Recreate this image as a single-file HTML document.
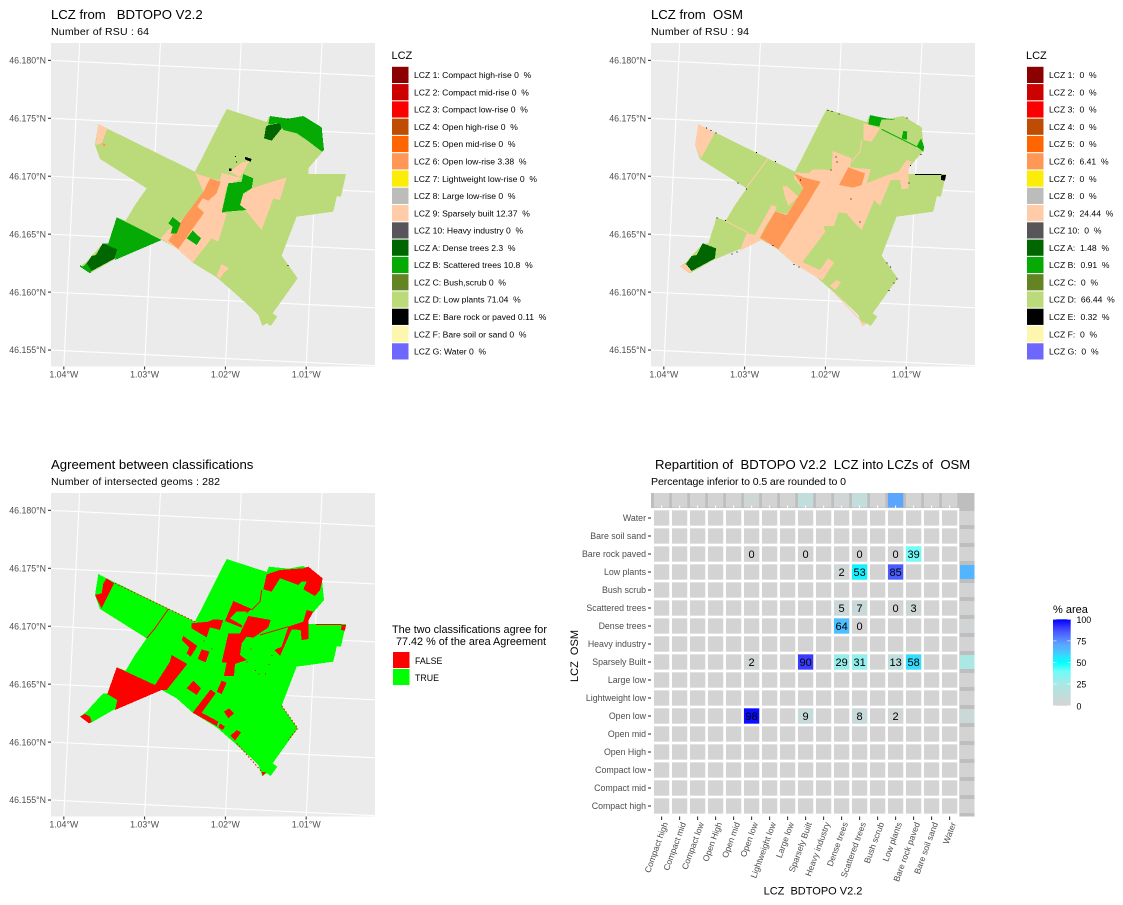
<!DOCTYPE html>
<html lang="en">
<head>
<meta charset="utf-8">
<title>LCZ classification comparison</title>
<style>
html,body{margin:0;padding:0;background:#fff;}
svg{display:block;}
text{font-family:"Liberation Sans",sans-serif;white-space:pre;}
.t{font-size:13.15px;fill:#000;}
.s{font-size:10.56px;fill:#000;}
.a{font-size:11px;fill:#000;}
.k{font-size:8.8px;fill:#4d4d4d;}
.x{font-size:8.6px;fill:#4d4d4d;}
.l{font-size:8.8px;fill:#000;}
.n{font-size:8.58px;fill:#000;}
</style>
</head>
<body>
<svg id="root" width="1123" height="905" viewBox="0 0 1123 905" xmlns="http://www.w3.org/2000/svg">
  <defs>
    <clipPath id="panel-clip"><rect x="51" y="43" width="324" height="323.5"></rect></clipPath>
    <linearGradient id="pct-gradient" x1="0" y1="1" x2="0" y2="0"></linearGradient>
  </defs>
  <rect x="0" y="0" width="1123" height="905" fill="#fff"></rect>

  <text class="t" x="51" y="19">LCZ from   BDTOPO V2.2</text>
  <text class="s" x="51" y="35" textLength="98" lengthAdjust="spacing">Number of RSU : 64</text>
  <g id="map-bdtopo"></g>
  <text class="a" x="391.5" y="59">LCZ</text>
  <g id="legend-bdtopo"></g>

  <text class="t" x="651" y="19">LCZ from  OSM</text>
  <text class="s" x="651" y="35" textLength="98" lengthAdjust="spacing">Number of RSU : 94</text>
  <g id="map-osm" transform="translate(600,0)"></g>
  <text class="a" x="1026" y="59">LCZ</text>
  <g id="legend-osm"></g>

  <text class="t" x="51" y="469">Agreement between classifications</text>
  <text class="s" x="51" y="485" textLength="169" lengthAdjust="spacing">Number of intersected geoms : 282</text>
  <g id="map-agree" transform="translate(0,450)"></g>
  <text class="a" x="469.5" y="633" text-anchor="middle" style="font-size:10.85px">The two classifications agree for</text>
  <text class="a" x="469.5" y="645" text-anchor="middle" style="font-size:10.85px"> 77.42 % of the area Agreement</text>
  <rect x="393" y="652" width="16.5" height="16" fill="#ff0000"></rect>
  <rect x="393" y="669" width="16.5" height="16" fill="#00ff00"></rect>
  <text class="l" x="415" y="664">FALSE</text>
  <text class="l" x="415" y="681">TRUE</text>

  <text class="t" x="655" y="469">Repartition of  BDTOPO V2.2  LCZ into LCZs of  OSM</text>
  <text class="s" x="651" y="485" textLength="195" lengthAdjust="spacing">Percentage inferior to 0.5 are rounded to 0</text>
  <g id="heatmap"></g>
  <text class="a" x="813" y="894.5" text-anchor="middle">LCZ  BDTOPO V2.2</text>
  <text class="a" transform="translate(578,656) rotate(-90)" text-anchor="middle">LCZ  OSM</text>

  <text class="a" x="1053" y="613">% area</text>
  <g id="colorbar"></g>
</svg>
<script>
/* ---------- axis data ---------- */
const lonTicks = [-1.04, -1.03, -1.02, -1.01];
const latTicks = [46.18, 46.175, 46.17, 46.165, 46.16, 46.155];

/* ---------- legend data ---------- */
const zoneCodes = ["1","2","3","4","5","6","7","8","9","10","A","B","C","D","E","F","G"];
const zoneNames = ["Compact high-rise","Compact mid-rise","Compact low-rise","Open high-rise","Open mid-rise","Open low-rise","Lightweight low-rise","Large low-rise","Sparsely built","Heavy industry","Dense trees","Scattered trees","Bush,scrub","Low plants","Bare rock or paved","Bare soil or sand","Water"];
const zoneColors = ["#8b0101","#cc0200","#fc0001","#be4c03","#ff6602","#ff9856","#fbed08","#bcbcba","#ffcca7","#57555a","#006700","#05aa05","#648423","#bbdb7a","#010101","#fdf6ae","#6d67fd"];
const bdtopoShare = [0,0,0,0,0,3.38,0,0,12.37,0,2.3,10.8,0,71.04,0.11,0,0];
const osmShare = [0,0,0,0,0,6.41,0,0,24.44,0,1.48,0.91,0,66.44,0.32,0,0];

/* ---------- heatmap data ---------- */
const heatCols = ["Compact high","Compact mid","Compact low","Open High","Open mid","Open low","Lightweight low","Large low","Sparsely Built","Heavy industry","Dense trees","Scattered trees","Bush scrub","Low plants","Bare rock paved","Bare soil sand","Water"];
const heatRows = ["Water","Bare soil sand","Bare rock paved","Low plants","Bush scrub","Scattered trees","Dense trees","Heavy industry","Sparsely Built","Large low","Lightweight low","Open low","Open mid","Open High","Compact low","Compact mid","Compact high"];
const heatCells = [
  ["Bare rock paved","Open low",0],["Bare rock paved","Sparsely Built",0],["Bare rock paved","Scattered trees",0],["Bare rock paved","Low plants",0],["Bare rock paved","Bare rock paved",39],
  ["Low plants","Dense trees",2],["Low plants","Scattered trees",53],["Low plants","Low plants",85],
  ["Scattered trees","Dense trees",5],["Scattered trees","Scattered trees",7],["Scattered trees","Low plants",0],["Scattered trees","Bare rock paved",3],
  ["Dense trees","Dense trees",64],["Dense trees","Scattered trees",0],
  ["Sparsely Built","Open low",2],["Sparsely Built","Sparsely Built",90],["Sparsely Built","Dense trees",29],["Sparsely Built","Scattered trees",31],["Sparsely Built","Low plants",13],["Sparsely Built","Bare rock paved",58],
  ["Open low","Open low",98],["Open low","Sparsely Built",9],["Open low","Scattered trees",8],["Open low","Low plants",2]
];
const topMarginShare = [["Open low",3.38],["Sparsely Built",12.37],["Dense trees",2.3],["Scattered trees",10.8],["Low plants",71.04],["Bare rock paved",0.11]];
const rightMarginShare = [["Open low",6.41],["Sparsely Built",24.44],["Dense trees",1.48],["Scattered trees",0.91],["Low plants",66.44],["Bare rock paved",0.32]];

/* ---------- colour scale ---------- */
const rampValues = [0,10,25,40,50,58,64,71,85,90,100];
const rampColors = ["#d3d3d3","#c5dbdb","#a9e8e4","#6efbf8","#00ffff","#33ddff","#4dbeff","#5aa5ff","#4a5cff","#3a3dff","#0000ff"];
const colorbarTicks = [0,25,50,75,100];

/* ---------- geometry: rings in local site-grid units (about 3.2 m per unit, easting, southing) ---------- */
const siteFootprint = "560,57 680,96 687,80 745,86 790,78 845,112 852,180 805,235 805,252 918,252 903,320 890,320 880,365 770,380 725,497 773,565 698,670 712,680 692,708 680,700 667,708 655,675 640,660 585,610 530,562 458,518 410,475 365,450 220,510 150,550 120,530 140,515 155,497 190,460 205,460 230,382 257,392 285,345 320,295 180,207 165,165 175,102 200,115 465,245";

const bdtopoZones = [
  ["9","175,102 202,115 185,160 167,165"],
  ["9","465,247 480,255 540,272 545,248 605,265 560,290 545,365 560,372 535,455 515,445 458,518 410,475 362,445 385,420 430,385 490,305"],
  ["9","570,245 605,218 628,213 600,262"],
  ["9","740,262 720,330 700,325 665,420 620,365 600,345 610,315 635,295"],
  ["9","545,522 567,535 552,548 540,565 530,558 535,545"],
  ["6","510,265 542,275 530,310 505,332 488,325 472,350 492,368 415,477 385,452 430,385 460,345 490,305"],
  ["6","185,160 198,163 192,170"],
  ["B","690,78 745,86 790,78 845,112 852,180 846,185 800,150 770,130 730,120 718,100 685,103"],
  ["B","565,280 605,275 610,252 640,265 635,295 610,310 600,345 620,360 560,365 545,368"],
  ["B","398,381 422,400 410,430 392,430 398,410 385,400"],
  ["B","458,422 483,445 470,465 440,445"],
  ["B","230,382 365,450 225,510 232,478 188,460 205,460"],
  ["B","120,525 128,530 140,520 155,543 150,550 120,530"],
  ["A","685,105 720,100 725,115 695,152 672,145 678,110"],
  ["A","188,460 232,478 225,505 155,543 140,520 155,498 168,495"],
  ["E","615,200 635,207 632,215 615,208"],
  ["E","567,236 575,235 575,243 567,243"]
];
const bdtopoDots = ["585,198","588,215","743,85","743,525"];

const osmZones = [
  ["9","175,102 225,128 183,205 165,165"],
  ["9","465,247 505,250 520,238 575,240 578,183 635,205 630,232 692,238 680,280 730,260 775,245 800,210 815,215 805,235 805,295 785,298 780,270 752,270 720,348 703,330 665,420 640,395 620,370 595,367 582,408 550,408 556,425 530,460 487,516 540,540 565,505 582,518 548,570 530,562 458,518 415,478 360,445 405,365 440,372 490,297 462,265"],
  ["9","428,290 440,288 475,320 445,348 435,320"],
  ["9","395,345 410,350 405,365 375,410 360,445 345,435"],
  ["9","320,430 345,435 365,450 300,482 310,455"],
  ["9","670,100 720,115 695,155 670,150"],
  ["9","665,695 678,700 668,708 660,695"],
  ["9","120,530 135,522 150,530 155,545 147,550"],
  ["9","590,570 603,577 585,600 570,587"],
  ["6","462,250 490,262 542,275 500,345 415,478 360,443 405,365 440,375 490,295"],
  ["6","625,232 675,250 665,285 640,293 597,285"],
  ["A","188,460 228,475 225,505 155,543 138,522 155,498 170,495"],
  ["B","690,75 722,82 768,90 725,88 718,110 685,103"],
  ["B","790,122 802,125 800,150 785,145"],
  ["B","843,145 852,170 850,185 830,170"],
  ["E","904,255 918,255 915,272 903,270"],
  ["E","825,252 905,252 905,255 825,255"]
];
const osmRoads = [
  ["9","385,205 340,265 318,295"],
  ["9","255,392 325,428"],
  ["9","665,150 660,185 635,215"],
  ["9","585,610 665,695"],
  ["B","725,118 830,170"]
];
const osmDots = ["563,60","575,63","595,70","198,112","212,120","227,128","348,186","405,213","292,277","318,295","230,382","255,390","397,465","290,484","275,490","460,522","475,530","740,517","750,530","770,565","760,578","745,600","800,82","842,192","810,225","806,278","587,200","590,215","572,238","480,268","632,325","658,395"];

const agreeFalseZones = [
  "200,115 222,130 185,205 165,165 185,160 190,130",
  "580,183 635,207 610,228 605,263 555,243",
  "455,250 505,245 520,238 550,240 540,270 510,262 500,292 455,265",
  "680,103 720,90 790,85 805,80 848,115 840,150 825,168 790,148 800,125 785,125 775,135 735,120 720,115 695,155 670,148",
  "625,228 692,240 685,262 640,293 620,290 605,310 600,345 620,360 585,372 582,408 552,408 560,368 545,368 565,280 600,280",
  "800,210 820,215 806,240 806,297 785,300 782,270 755,268 720,348 703,330 725,320 745,260 790,245",
  "395,345 442,372 380,450 365,450 345,435 390,365",
  "430,288 472,318 452,350 440,340 448,322 425,300",
  "485,328 508,335 497,367 473,357",
  "440,445 460,422 483,445 470,465",
  "545,422 560,428 545,462 530,455",
  "230,382 345,435 365,450 225,510 232,480 202,462",
  "512,448 527,460 485,518 535,545 530,558 458,518",
  "552,515 567,505 582,520 565,535",
  "540,550 555,560 548,570 535,562",
  "590,570 603,577 585,602 572,587",
  "120,530 135,522 150,530 155,545 147,550",
  "665,695 678,697 668,708",
  "828,252 905,252 905,255 828,255",
  "905,255 918,255 915,272 903,270"
];
const agreeTrueZones = ["590,215 620,215 605,255 570,235"];
const agreeFalseRoads = [
  "385,207 345,265 320,295",
  "665,150 660,185 635,210",
  "745,260 660,285"
];
const agreeDashedEdges = [
  "225,130 465,245",
  "590,610 665,695",
  "725,497 773,565 745,600"
];
const agreeDots = ["632,325","645,390","655,400","675,400","685,372","695,345","490,302","515,325","555,405","620,365"];

/* ---------- helpers ---------- */
const SVGNS = "http://www.w3.org/2000/svg";
function mk(tag, attrs, parent) {
  const el = document.createElementNS(SVGNS, tag);
  for (const k in attrs) el.setAttribute(k, attrs[k]);
  parent.appendChild(el);
  return el;
}
function panelLon(lon) { return (lon + 1.04) / 0.01; }
function panelLat(lat) { return (lat - 46.175) / 0.005; }
function geoX(lon, lat) { return 75.9 + 80.6 * panelLon(lon) + 2.83 * panelLat(lat); }
function geoY(lon, lat) { return 119.5 + 3.9 * panelLon(lon) - 57.8 * panelLat(lat); }
function siteX(e) { return 40 + e / 3; }
function siteY(s) { return 90 + s / 3; }
function ringPoints(ring) {
  return ring.split(" ").map(function (p) {
    const c = p.split(",");
    return siteX(+c[0]).toFixed(2) + "," + siteY(+c[1]).toFixed(2);
  }).join(" ");
}
function latTickY(lat) {
  const lon = -1.04 + 0.01 * (51 - 75.9 - 2.83 * panelLat(lat)) / 80.6;
  return geoY(lon, lat);
}
function lonTickX(lon) {
  const lat = 46.175 + 0.005 * (119.5 + 3.9 * panelLon(lon) - 366.5) / 57.8;
  return geoX(lon, lat);
}
function hexToRgb(h) { return [parseInt(h.substr(1,2),16), parseInt(h.substr(3,2),16), parseInt(h.substr(5,2),16)]; }
function pctColor(v) {
  let i = 0;
  while (i < rampValues.length - 2 && v > rampValues[i + 1]) i++;
  const t = Math.max(0, Math.min(1, (v - rampValues[i]) / (rampValues[i + 1] - rampValues[i])));
  const a = hexToRgb(rampColors[i]), b = hexToRgb(rampColors[i + 1]);
  return "rgb(" + a.map(function (c, n) { return Math.round(c + (b[n] - c) * t); }).join(",") + ")";
}
function zoneColor(code) { return zoneColors[zoneCodes.indexOf(code)]; }
function heatX(name) { return 661.6 + 18 * heatCols.indexOf(name); }
function heatY(name) { return 518 + 18 * heatRows.indexOf(name); }
function colorbarY(v) { return 705.7 - 0.864 * v; }

/* ---------- map frame ---------- */
function drawFrame(g) {
  let el = mk("rect", {x:51, y:43, width:324, height:323.5, fill:"#ebebeb"}, g);
  
  
  const grid = mk("g", {"clip-path":"url(#panel-clip)", stroke:"#fff", "stroke-width":1.07, fill:"none"}, g);
  
  
  lonTicks.forEach(function (lon) {
    el = mk("line", {x1:geoX(lon,46.15), y1:geoY(lon,46.15), x2:geoX(lon,46.19), y2:geoY(lon,46.19)}, grid);
    
    
    const tx = lonTickX(lon);
    el = mk("line", {x1:tx, y1:366.5, x2:tx, y2:369.5, stroke:"#333", "stroke-width":1.07}, g);
    
    
    el = mk("text", {x:tx, y:377.5, "text-anchor":"middle", "class":"k"}, g);
    
    
    el.textContent = Math.abs(lon).toFixed(2) + "\u00b0W";
  });
  latTicks.forEach(function (lat) {
    el = mk("line", {x1:geoX(-1.05,lat), y1:geoY(-1.05,lat), x2:geoX(-0.99,lat), y2:geoY(-0.99,lat)}, grid);
    
    
    const ty = latTickY(lat);
    el = mk("line", {x1:48, y1:ty, x2:51, y2:ty, stroke:"#333", "stroke-width":1.07}, g);
    
    
    el = mk("text", {x:46, y:ty + 3.2, "text-anchor":"end", "class":"k"}, g);
    
    
    el.textContent = lat.toFixed(3) + "\u00b0N";
  });
}
function drawRing(g, ring, fill) {
  const el = mk("polygon", {points:ringPoints(ring), fill:fill, "shape-rendering":"crispEdges"}, g);
  
  
}
function drawRoad(g, ring, colour) {
  const el = mk("polyline", {points:ringPoints(ring), fill:"none", stroke:colour, "stroke-width":1}, g);
  
  
}
function drawEdge(g, ring, colour) {
  const el = mk("polyline", {points:ringPoints(ring), fill:"none", stroke:colour, "stroke-width":1, "stroke-dasharray":"1.5 2"}, g);
  
  
}
function drawDot(g, spot, colour) {
  const c = spot.split(",");
  const el = mk("rect", {x:siteX(+c[0]), y:siteY(+c[1]), width:1, height:1, fill:colour, "shape-rendering":"crispEdges"}, g);
  
  
}

/* BDTOPO map */
const gBd = document.getElementById("map-bdtopo");
drawFrame(gBd);
drawRing(gBd, siteFootprint, zoneColor("D"));
bdtopoZones.forEach(function (z) { drawRing(gBd, z[1], zoneColor(z[0])); });
bdtopoDots.forEach(function (d) { drawDot(gBd, d, zoneColor("E")); });

/* OSM map */
const gOsm = document.getElementById("map-osm");
drawFrame(gOsm);
drawRing(gOsm, siteFootprint, zoneColor("D"));
osmZones.forEach(function (z) { drawRing(gOsm, z[1], zoneColor(z[0])); });
osmRoads.forEach(function (z) { drawRoad(gOsm, z[1], zoneColor(z[0])); });
osmDots.forEach(function (d) { drawDot(gOsm, d, zoneColor("E")); });

/* Agreement map */
const gAg = document.getElementById("map-agree");
drawFrame(gAg);
drawRing(gAg, siteFootprint, "#00ff00");
agreeFalseZones.forEach(function (z) { drawRing(gAg, z, "#ff0000"); });
agreeTrueZones.forEach(function (z) { drawRing(gAg, z, "#00ff00"); });
agreeFalseRoads.forEach(function (z) { drawRoad(gAg, z, "#ff0000"); });
agreeDashedEdges.forEach(function (z) { drawEdge(gAg, z, "#ff0000"); });
agreeDots.forEach(function (d) { drawDot(gAg, d, "#ff0000"); });

/* ---------- LCZ legends ---------- */
function drawLegend(g, swatchX, textX, withNames, shares) {
  zoneCodes.forEach(function (code, i) {
    const cy = 75 + 17.28 * i;
    let el = mk("rect", {x:swatchX, y:cy - 8.2, width:16.5, height:16.2, fill:zoneColors[i]}, g);
    
    
    el = mk("text", {x:textX, y:cy + 3.1, "class":"n"}, g);
    
    
    el.textContent = withNames
      ? "LCZ " + code + ": " + zoneNames[i] + " " + shares[i] + "  %"
      : "LCZ " + code + ":  " + shares[i] + "  %";
  });
}
drawLegend(document.getElementById("legend-bdtopo"), 392, 414, true, bdtopoShare);
drawLegend(document.getElementById("legend-osm"), 1027, 1049, false, osmShare);

/* ---------- heatmap ---------- */
const gH = document.getElementById("heatmap");
let hel = mk("rect", {x:651, y:493, width:306, height:15, fill:"#bebebe"}, gH);


hel = mk("rect", {x:957, y:493, width:17.5, height:18, fill:"#bebebe"}, gH);


hel = mk("rect", {x:959.3, y:511, width:15.2, height:305.5, fill:"#bebebe"}, gH);


hel = mk("rect", {x:651, y:508, width:308.3, height:308.5, fill:"#fff"}, gH);



heatCols.forEach(function (c) {
  const match = topMarginShare.filter(function (m) { return m[0] === c; })[0];
  const el = mk("rect", {x:heatX(c) - 7.65, y:493, width:15.3, height:14.5, fill:pctColor(match ? match[1] : 0)}, gH);
  
  
});
heatRows.forEach(function (r) {
  const match = rightMarginShare.filter(function (m) { return m[0] === r; })[0];
  const el = mk("rect", {x:960, y:heatY(r) - 7, width:14.5, height:14, fill:pctColor(match ? match[1] : 0)}, gH);
  
  
});
heatRows.forEach(function (r) {
  heatCols.forEach(function (c) {
    const el = mk("rect", {x:heatX(c) - 7.65, y:heatY(r) - 7.65, width:15.3, height:15.3, fill:"#d3d3d3"}, gH);
    
    
  });
});
heatCells.forEach(function (cell) {
  const cx = heatX(cell[1]), cy = heatY(cell[0]);
  let el = mk("rect", {x:cx - 7.65, y:cy - 7.65, width:15.3, height:15.3, fill:pctColor(cell[2])}, gH);
  
  
  el = mk("text", {x:cx, y:cy + 4, "text-anchor":"middle", "font-size":"11px", fill:"#000"}, gH);
  
  
  el.textContent = String(cell[2]);
});
heatCols.forEach(function (c) {
  const cx = heatX(c);
  let el = mk("line", {x1:cx, y1:816.5, x2:cx, y2:820, stroke:"#333", "stroke-width":1.07}, gH);
  
  
  el = mk("line", {x1:cx, y1:505.5, x2:cx, y2:508, stroke:"#fff", "stroke-width":1}, gH);
  
  
  el = mk("text", {transform:"translate(" + (cx + 6.5) + ",823.5) rotate(-70)", "text-anchor":"end", "class":"x"}, gH);
  
  
  el.textContent = c;
});
heatRows.forEach(function (r) {
  const cy = heatY(r);
  let el = mk("line", {x1:648, y1:cy, x2:651, y2:cy, stroke:"#333", "stroke-width":1.07}, gH);
  
  
  el = mk("text", {x:646, y:cy + 3.2, "text-anchor":"end", "class":"k"}, gH);
  
  
  el.textContent = r;
});

/* ---------- colour bar ---------- */
const grad = document.getElementById("pct-gradient");
rampValues.forEach(function (v, i) {
  const st = mk("stop", {offset:v + "%", "stop-color":rampColors[i]}, grad);
  
  
});
const gC = document.getElementById("colorbar");
let cel = mk("rect", {x:1053, y:colorbarY(100), width:17.7, height:colorbarY(0) - colorbarY(100), fill:"url(#pct-gradient)"}, gC);


colorbarTicks.forEach(function (v) {
  const cy = colorbarY(v);
  let el = mk("line", {x1:1053, y1:cy, x2:1056.5, y2:cy, stroke:"#fff", "stroke-width":0.6}, gC);
  
  
  el = mk("line", {x1:1067.2, y1:cy, x2:1070.7, y2:cy, stroke:"#fff", "stroke-width":0.6}, gC);
  
  
  el = mk("text", {x:1076.5, y:cy + 3.6, "class":"l"}, gC);
  
  
  el.textContent = String(v);
});
</script>
</body>
</html>
